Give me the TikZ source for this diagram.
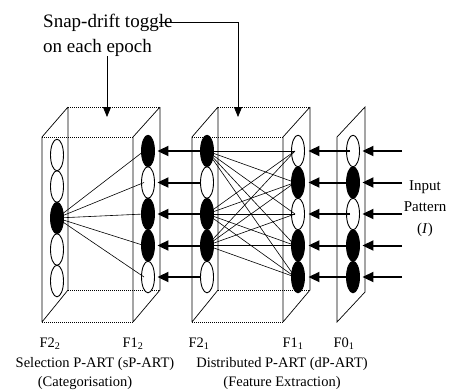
\documentclass[tikz,border=0pt]{standalone}
\usepackage{fontspec}
\setmainfont{Liberation Serif}
\usetikzlibrary{arrows.meta,shapes.geometric}
\tikzset{
  unit/.style={ellipse,draw,line width=0.9pt,minimum width=13pt,minimum height=31.5pt,inner sep=0pt},
  hidden/.style={line width=1pt,densely dotted},
  boxline/.style={line width=0.7pt},
  link/.style={line width=0.6pt},
  feed/.style={line width=2pt,-{Triangle[length=11pt,width=10pt]}},
  epocharrow/.style={line width=0.8pt,-{Triangle[length=10pt,width=8pt]}},
  lbl/.style={font=\fontsize{14.5}{18}\selectfont,inner sep=0pt,anchor=base},
}
\begin{document}
\begin{tikzpicture}[x=1pt,y=-1pt]
\useasboundingbox (0,0) rectangle (449,389);
% the two P-ART modules as open boxes
\foreach \x in {42,192} {
  \draw[hidden] (\x,137)--(\x+91,137) (\x+26,107)--(\x+118,107)
    (\x+26,290)--(\x+118,290) (\x,322)--(\x+91,322);
  \draw[boxline] (\x,137)--(\x,322) (\x+91,137)--(\x+91,322)
    (\x+26,107)--(\x+26,290) (\x+118,107)--(\x+118,290)
    (\x,137)--(\x+26,107) (\x+91,137)--(\x+118,107)
    (\x,322)--(\x+26,290) (\x+91,322)--(\x+118,290);
}
% input plane F0
\draw[boxline] (337,137)--(337,322)--(365,292)--(365,107)--cycle;
% layers of units
\foreach \i/\c in {1/white,2/white,3/black,4/white,5/white}
  \node[unit,fill=\c] (f22-\i) at (57,{123.5+31.5*\i}) {};
\foreach \i/\c in {1/black,2/white,3/black,4/black,5/white} {
  \node[unit,fill=\c] (f12-\i) at (148,{119.5+31.5*\i}) {};
  \node[unit,fill=\c] (f21-\i) at (207,{119.5+31.5*\i}) {};
}
\foreach \i/\c in {1/white,2/black,3/white,4/black,5/black} {
  \node[unit,fill=\c] (f11-\i) at (298,{119.5+31.5*\i}) {};
  \node[unit,fill=\c] (f01-\i) at (353,{119.5+31.5*\i}) {};
  \coordinate (in-\i) at (402,{119.5+31.5*\i});
}
% weights
\foreach \j in {1,...,5} {
  \draw[link] (f22-3.center) -- ([xshift=-4pt]f12-\j.center);
  \foreach \i in {1,3,4}
    \draw[link] (f21-\i.center) -- ([xshift=-3pt]f11-\j.center);
}
% signal flow
\foreach \i in {1,...,5} {
  \draw[feed,shorten >=2.5pt] (f21-\i.west) -- (f12-\i.east);
  \draw[feed,shorten >=3.5pt] ([xshift=-3pt]f01-\i.center) -- (f11-\i.east);
  \draw[feed,shorten >=2.5pt] (in-\i) -- (f01-\i.east);
}
% labels
\node[font=\fontsize{19}{25}\selectfont,inner sep=0pt,anchor=base west] (snap) at (43,27) {Snap-drift toggle};
\node[font=\fontsize{19}{25}\selectfont,inner sep=0pt,anchor=base west] (epoch) at (43,52) {on each epoch};
\coordinate (capA) at (107,117);
\coordinate (capB) at (238,117);
\draw[epocharrow] (epoch.south -| capA) -- (capA);
\draw[epocharrow,shorten <=-14pt] (snap.east) -| (capB);
\node[font=\fontsize{15}{21.5}\selectfont,inner sep=0pt,anchor=north,align=center] (inp) at (425,180) {Input\\Pattern\\(\textit{I})};
\node[lbl] (n22) at (50,347) {F2\textsubscript{2}};
\node[lbl] (n12) at (133,347) {F1\textsubscript{2}};
\node[lbl] (n21) at (199,347) {F2\textsubscript{1}};
\node[lbl] (n11) at (293,347) {F1\textsubscript{1}};
\node[lbl] (n01) at (344,347) {F0\textsubscript{1}};
\node[lbl] (lblsel) at (95,367) {Selection P-ART (sP-ART)};
\node[lbl] (lblcat) at (85,386) {(Categorisation)};
\node[lbl] (lbldist) at (282,367) {Distributed P-ART (dP-ART)};
\node[lbl] (lblfeat) at (282,386) {(Feature Extraction)};
\end{tikzpicture}
\end{document}
